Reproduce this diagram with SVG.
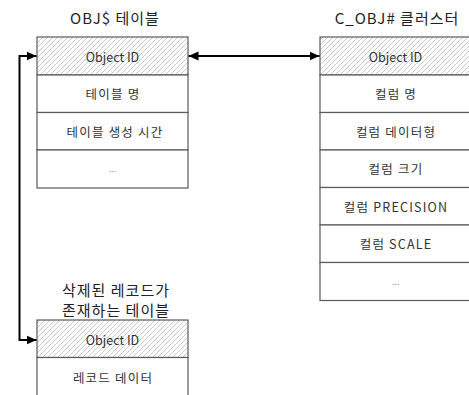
<svg xmlns="http://www.w3.org/2000/svg" width="469" height="395" viewBox="0 0 469 395">
<defs>
<pattern id="hatch" patternUnits="userSpaceOnUse" width="5" height="5">
<rect width="5" height="5" fill="#fff"/>
<path d="M-1,1 L1,-1 M0,5 L5,0 M4,6 L6,4" stroke="#bdbdbd" stroke-width="0.8"/>
</pattern>
<marker id="arr" viewBox="0 0 10 10" refX="10" refY="5" markerWidth="10" markerHeight="10" markerUnits="userSpaceOnUse" orient="auto-start-reverse">
<path d="M0,0.5 L10,5 L0,9.5 Z" fill="#000"/>
</marker>
<style>
.cell{fill:#fff;stroke:#5a5a5a;stroke-width:1.2}
.key{fill:url(#hatch);stroke:#5a5a5a;stroke-width:1.2}
.t{font-family:"Noto Sans CJK KR","Noto Sans",sans-serif;font-size:12.5px;fill:#333;text-anchor:middle;dominant-baseline:central}
.k{letter-spacing:1.2px}
.title{font-family:"Noto Sans CJK KR","Noto Sans",sans-serif;font-size:15px;fill:#222;text-anchor:middle;letter-spacing:1px}
.dots{font-family:"Noto Sans",sans-serif;font-size:9px;fill:#888;text-anchor:middle;dominant-baseline:central}
.conn{fill:none;stroke:#000;stroke-width:2}
</style>
</defs>
<g id="obj-table">
<text class="title" x="115" y="24">OBJ$ 테이블</text>
<rect class="key" x="37" y="37" width="151" height="38"/>
<text class="t" x="112.5" y="56">Object ID</text>
<rect class="cell" x="37" y="75" width="151" height="37.5"/>
<text class="t k" x="113" y="93.5">테이블 명</text>
<rect class="cell" x="37" y="112.5" width="151" height="37.5"/>
<text class="t k" x="115" y="131">테이블 생성 시간</text>
<rect class="cell" x="37" y="150" width="151" height="38"/>
<text class="dots" x="112.5" y="168">...</text>
</g>
<g id="cobj-cluster">
<text class="title" x="397" y="24">C_OBJ# 클러스터</text>
<rect class="key" x="320" y="37" width="151" height="38"/>
<text class="t" x="395.5" y="56">Object ID</text>
<rect class="cell" x="320" y="75" width="151" height="37.5"/>
<text class="t k" x="396" y="93.5">컬럼 명</text>
<rect class="cell" x="320" y="112.5" width="151" height="37.5"/>
<text class="t k" x="396" y="131">컬럼 데이터형</text>
<rect class="cell" x="320" y="150" width="151" height="37.5"/>
<text class="t k" x="396" y="168.5">컬럼 크기</text>
<rect class="cell" x="320" y="187.5" width="151" height="37.5"/>
<text class="t k" x="396" y="206">컬럼 PRECISION</text>
<rect class="cell" x="320" y="225" width="151" height="37.5"/>
<text class="t k" x="396" y="243.5">컬럼 SCALE</text>
<rect class="cell" x="320" y="262.5" width="151" height="38"/>
<text class="dots" x="395.5" y="281">...</text>
</g>
<g id="deleted-table">
<text class="title" x="116" y="296">삭제된 레코드가</text>
<text class="title" x="116" y="316">존재하는 테이블</text>
<rect class="key" x="37" y="320" width="151" height="37.5"/>
<text class="t" x="112.5" y="339">Object ID</text>
<rect class="cell" x="37" y="357.5" width="151" height="40"/>
<text class="t k" x="113" y="377">레코드 데이터</text>
</g>
<g id="connectors">
<path class="conn" d="M188.5,56 L319.5,56" marker-start="url(#arr)" marker-end="url(#arr)"/>
<path class="conn" d="M36.5,56 L19.5,56 L19.5,340 L36.5,340" marker-start="url(#arr)" marker-end="url(#arr)"/>
</g>
</svg>
